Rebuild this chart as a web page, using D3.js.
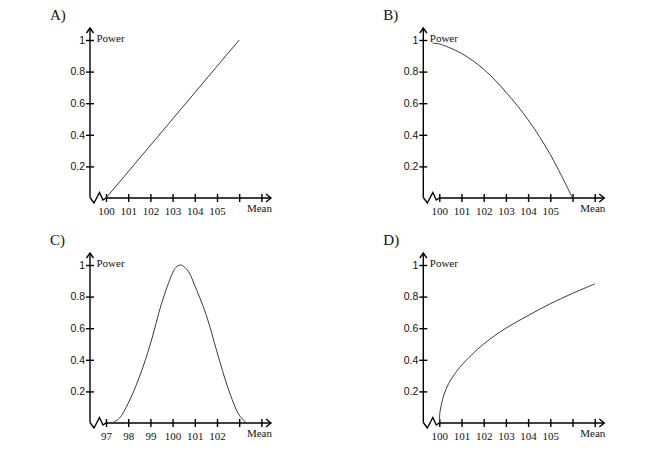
<!DOCTYPE html>
<html>
<head>
<meta charset="utf-8">
<script src="https://cdn.jsdelivr.net/npm/d3@7"></script>
<style>
  body { margin: 0; background: #fff; }
  svg text { font-family: "Liberation Serif", "Times New Roman", "DejaVu Serif", serif; fill: #111; }
</style>
</head>
<body>
<svg id="chart" width="650" height="449"></svg>
<script>
// values
var meanA = [100, 106];
var powerA = [0, 1];

var meanB = [99.7, 100, 101, 102, 103, 104, 105, 106];
var powerB = [0.98, 0.975, 0.915, 0.815, 0.67, 0.495, 0.275, 0];

var meanC = [97.27, 97.6, 98, 98.5, 99, 99.5, 100, 100.15, 100.34, 100.55, 100.75, 101, 101.5, 102, 102.5, 103, 103.33];
var powerC = [0, 0.03, 0.125, 0.29, 0.5, 0.755, 0.95, 0.985, 1, 0.985, 0.95, 0.87, 0.69, 0.45, 0.22, 0.05, 0];

var meanD = [100, 100.03, 100.1, 100.2, 100.42, 100.72, 101, 102, 103, 104, 105, 106, 107];
var powerD = [0, 0.07, 0.12, 0.175, 0.25, 0.315, 0.365, 0.5, 0.6, 0.68, 0.755, 0.82, 0.88];

var panelLabels = ["A)", "B)", "C)", "D)"];
var xStarts = [100, 100, 97, 100];
var xTickLabelsAB = ["100", "101", "102", "103", "104", "105"];
var xTickLabelsC = ["97", "98", "99", "100", "101", "102"];
var yTicks = [0.2, 0.4, 0.6, 0.8, 1];
var yTickLabels = ["0.2", "0.4", "0.6", "0.8", "1"];

var svg = d3.select("#chart");
var serif = "'Liberation Serif', 'Times New Roman', serif";
var sans = "'Liberation Sans', Arial, sans-serif";

// axis origin of each panel (where the y axis meets the mean axis)
var origins = [[90, 198], [423.3, 198], [90, 423], [423.3, 423]];
var curves = [
  { mean: meanA, power: powerA, curve: d3.curveLinear },
  { mean: meanB, power: powerB, curve: d3.curveCatmullRom.alpha(0.5) },
  { mean: meanC, power: powerC, curve: d3.curveCatmullRom.alpha(0.5) },
  { mean: meanD, power: powerD, curve: d3.curveCatmullRom.alpha(0.5) }
];

function drawPanel(i) {
  var ox = origins[i][0], oy = origins[i][1];
  var x0 = xStarts[i];
  var labels = i == 2 ? xTickLabelsC : xTickLabelsAB;

  var g = svg.append("g");

  var xScale = d3.scaleLinear().domain([x0, x0 + 7]).range([ox + 16, ox + 16 + 155.4]);
  var yScale = d3.scaleLinear().domain([0, 1]).range([oy, oy - 158]);

  // panel letter
  g.append("text")
    .attr("x", ox - 40)
    .attr("y", oy - 178)
    .attr("font-family", serif)
    .style("font-size", "15px")
    .text(panelLabels[i]);

  // x axis (ticks cross the line)
  var xTickVals = d3.range(x0, x0 + 8);
  var xAxis = d3.axisBottom(xScale)
    .tickValues(xTickVals)
    .tickSizeInner(4)
    .tickSizeOuter(0)
    .tickPadding(5)
    .tickFormat(function (d, k) { return k < labels.length ? labels[k] : ""; });

  var gx = g.append("g")
    .attr("transform", "translate(0," + oy + ")")
    .call(xAxis)
    .attr("font-family", serif)
    .attr("font-size", 11);
  gx.select(".domain").remove();
  gx.selectAll(".tick line").attr("y1", -4).attr("stroke", "#000").attr("stroke-width", 1.4);
  gx.selectAll(".tick text").attr("fill", "#111");

  // y axis
  var yAxis = d3.axisLeft(yScale)
    .tickValues(yTicks)
    .tickSizeInner(4)
    .tickSizeOuter(0)
    .tickPadding(1)
    .tickFormat(function (d, k) { return yTickLabels[k]; });

  var gy = g.append("g")
    .attr("transform", "translate(" + ox + ",0)")
    .call(yAxis);
  gy.select(".domain").remove();
  gy.selectAll(".tick line").attr("x1", 4).attr("stroke", "#000").attr("stroke-width", 1.4);
  gy.selectAll(".tick text")
    .style("font-family", sans)
    .style("font-size", "10.5px")
    .attr("fill", "#111");

  var axisStyle = function (p) {
    return p.attr("fill", "none").attr("stroke", "#000").attr("stroke-width", 1.4)
      .attr("stroke-linejoin", "miter");
  };

  // y axis line with arrow head
  var top = oy - 170;
  axisStyle(g.append("path")
    .attr("d", "M" + ox + "," + (oy - 0.5) + "V" + top));
  axisStyle(g.append("path")
    .attr("d", "M" + (ox - 3.5) + "," + (top + 5) + "L" + ox + "," + top + "L" + (ox + 3.5) + "," + (top + 5)));

  // broken-axis zigzag then mean axis with arrow head
  var right = ox + 181;
  axisStyle(g.append("path")
    .attr("d", "M" + ox + "," + (oy - 0.5) +
      "L" + (ox + 4) + "," + (oy + 5) +
      "L" + (ox + 9.5) + "," + (oy - 5.5) +
      "L" + (ox + 13) + "," + (oy + 2) +
      "L" + (ox + 16) + "," + oy +
      "H" + right));
  axisStyle(g.append("path")
    .attr("d", "M" + (right - 5) + "," + (oy - 4) + "L" + right + "," + oy + "L" + (right - 5) + "," + (oy + 4)));

  // axis titles
  g.append("text")
    .attr("x", ox + 6.5)
    .attr("y", oy - 156)
    .attr("font-family", serif)
    .style("font-size", "11px")
    .text("Power");
  g.append("text")
    .attr("x", ox + 182)
    .attr("y", oy + 14)
    .attr("text-anchor", "end")
    .attr("font-family", serif)
    .style("font-size", "11px")
    .text("Mean");

  // power curve
  var c = curves[i];
  var pts = c.mean.map(function (m, k) { return [m, c.power[k]]; });
  var line = d3.line()
    .x(function (d) { return xScale(d[0]); })
    .y(function (d) { return yScale(d[1]); })
    .curve(c.curve);

  g.append("path")
    .attr("d", line(pts))
    .attr("fill", "none")
    .attr("stroke", "#3a3a3a")
    .attr("stroke-width", 1);
}

for (var i = 0; i < 4; i++) drawPanel(i);
</script>
</body>
</html>
